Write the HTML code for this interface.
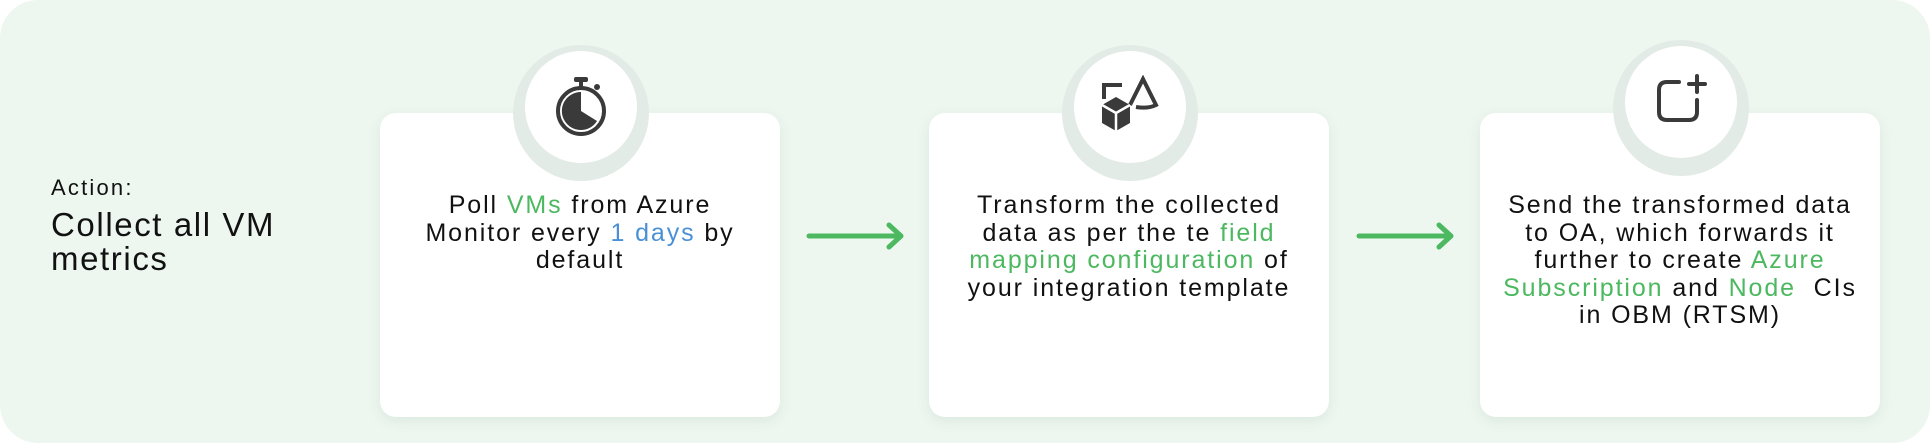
<!DOCTYPE html>
<html><head><meta charset="utf-8"><style>
body{margin:0;width:1930px;height:443px;overflow:hidden;background:#fff;font-family:"Liberation Sans",sans-serif;}
.bg{position:absolute;left:0;top:0;width:1930px;height:443px;background:#edf7f0;border-radius:38px;}
.card{position:absolute;top:113px;width:400px;height:304px;background:#fff;border-radius:16px;box-shadow:0 4px 14px rgba(0,60,30,0.08);}
.ring{position:absolute;width:136px;height:136px;border-radius:50%;background:#e3ebe6;}
.circ{position:absolute;width:112px;height:112px;border-radius:50%;background:#fff;display:flex;align-items:center;justify-content:center;}
.txt{position:absolute;top:192px;width:400px;text-align:center;font-size:25px;line-height:27.5px;letter-spacing:1.9px;color:#111;}
.g{color:#4cb860}.b{color:#4a90d6}
.arrow{position:absolute;top:222px;}
</style></head><body>
<div class="bg"></div>
<div style="position:absolute;left:51px;top:175px;font-size:22px;letter-spacing:2.2px;color:#111;">Action:</div>
<div style="position:absolute;left:51px;top:208px;font-size:33px;line-height:34px;letter-spacing:1.6px;color:#111;">Collect all VM<br>metrics</div>

<div class="card" style="left:380px"></div>
<div class="card" style="left:929px"></div>
<div class="card" style="left:1480px"></div>

<div class="ring" style="left:513px;top:45px"></div>
<div class="circ" style="left:525px;top:51px">
<svg width="60" height="64" viewBox="0 0 60 64"><rect x="23" y="2" width="14" height="5" rx="2" fill="#3a3a3a"/><rect x="28" y="5" width="4" height="8" fill="#3a3a3a"/><circle cx="46" cy="12" r="3" fill="#3a3a3a"/><circle cx="30" cy="36" r="23" fill="none" stroke="#3a3a3a" stroke-width="4"/><path d="M30 36 L30 17 A19 19 0 1 0 46 46 Z" fill="#3a3a3a"/></svg></div>

<div class="ring" style="left:1062px;top:45px"></div>
<div class="circ" style="left:1074px;top:51px">
<svg width="64" height="64" viewBox="0 0 64 64"><path d="M6 24 V10 H24" fill="none" stroke="#3a3a3a" stroke-width="4"/><path d="M32 30 L45 4 L58 30 Q50 34 38 32" fill="none" stroke="#3a3a3a" stroke-width="4"/><path d="M4 30 L18 22 L32 30 L32 48 L18 56 L4 48 Z" fill="#3a3a3a"/><path d="M4 30 L18 38 L32 30 M18 38 V56" stroke="#fff" stroke-width="2.5" fill="none"/></svg></div>

<div class="ring" style="left:1613px;top:40px"></div>
<div class="circ" style="left:1625px;top:46px">
<svg width="56" height="56" viewBox="0 0 56 56"><path d="M26 8 H14 Q6 8 6 16 V38 Q6 46 14 46 H36 Q44 46 44 38 V26" fill="none" stroke="#3a3a3a" stroke-width="4" stroke-linecap="round"/><path d="M44 2 V18 M36 10 H52" stroke="#3a3a3a" stroke-width="4" stroke-linecap="round"/></svg></div>

<div class="txt" style="left:380px">Poll <span class="g">VMs</span> from Azure<br>Monitor every <span class="b">1 days</span> by<br>default</div>
<div class="txt" style="left:929px">Transform the collected<br>data as per the te <span class="g">field</span><br><span class="g">mapping configuration</span> of<br>your integration template</div>
<div class="txt" style="left:1480px">Send the transformed data<br>to OA, which forwards it<br>further to create <span class="g">Azure</span><br><span class="g">Subscription</span> and <span class="g">Node</span>&nbsp; CIs<br>in OBM (RTSM)</div>

<svg class="arrow" style="left:806px" width="100" height="28" viewBox="0 0 100 28"><path d="M3 14 H95 M83 3 L95 14 L83 25" fill="none" stroke="#4cb860" stroke-width="5" stroke-linecap="round" stroke-linejoin="round"/></svg>
<svg class="arrow" style="left:1356px" width="100" height="28" viewBox="0 0 100 28"><path d="M3 14 H95 M83 3 L95 14 L83 25" fill="none" stroke="#4cb860" stroke-width="5" stroke-linecap="round" stroke-linejoin="round"/></svg>
</body></html>
